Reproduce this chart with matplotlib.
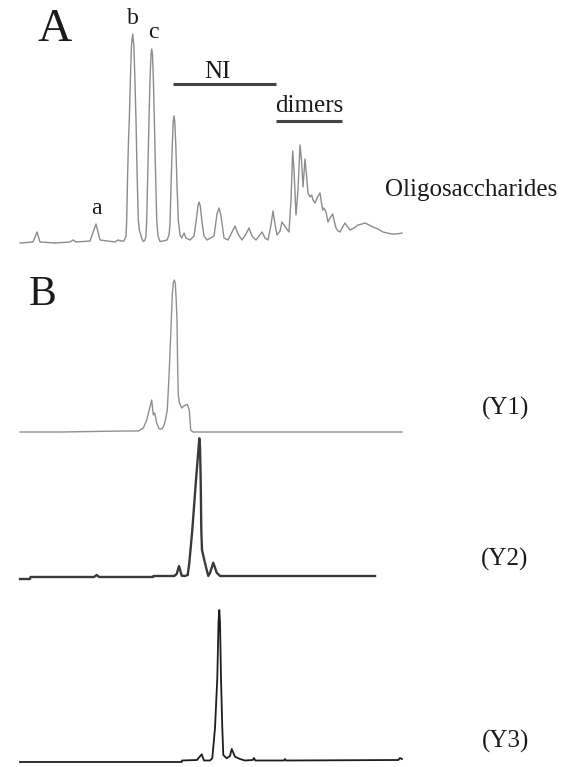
import matplotlib
matplotlib.use("Agg")
import matplotlib.pyplot as plt

# Хроматограми: час утримання (хв) і сигнал (відн. од., від базової лінії)
# Панель A - олігосахариди
t_oligo = [2.0, 3.3, 3.7, 4.0, 5.5, 7.0, 7.3, 7.6, 9.0, 9.6, 10.0, 11.5, 11.8, 12.1,
           12.4, 12.6, 12.67, 12.75, 12.85, 12.93, 13.05, 13.15, 13.27, 13.38,
           13.48, 13.6, 13.7, 13.83, 13.93, 14.17, 14.33, 14.5, 14.6, 14.67,
           14.78, 14.9, 15.0, 15.1, 15.17, 15.25, 15.34, 15.43, 15.55, 15.67,
           15.8, 16.0, 16.3, 16.7, 16.9, 17.0, 17.12, 17.23, 17.32, 17.4, 17.48,
           17.58, 17.7, 17.83, 18.0, 18.17, 18.4, 18.6, 19.0, 19.4, 19.6, 19.8,
           19.9, 20.03, 20.2, 20.4, 20.7, 21.4, 21.7, 21.9, 22.1, 22.4, 22.8,
           23.2, 23.5, 23.8, 24.2, 24.6, 24.9, 25.2, 25.6, 25.9, 26.2, 26.5,
           26.8, 27.1, 27.3, 27.5, 27.7, 28.0, 28.2, 28.4, 28.6, 28.9, 29.1,
           29.27, 29.4, 29.6, 29.8, 30.0, 30.15, 30.3, 30.5, 30.65, 30.8, 31.0,
           31.17, 31.3, 31.5, 31.7, 32.0, 32.15, 32.27, 32.4, 32.6, 32.8, 33.0,
           33.27, 33.45, 33.6, 33.8, 34.0, 34.2, 34.5, 34.7, 35.0, 35.4, 35.8,
           36.2, 36.5, 36.9, 37.3, 37.8, 38.3, 38.7, 39.2, 39.7, 40.2]
s_oligo = [0, 1, 11, 1, 0, 1, 3, 1, 2, 19, 3, 1, 3, 2,
           2, 7, 23, 63, 103, 123, 168, 198, 209, 198, 168, 123,
           73, 23, 13, 5, 1.5, 3, 7, 23, 73, 123, 163, 188, 194, 188,
           163, 123, 73, 23, 7, 1.5, 2, 3, 8, 19, 63, 98, 121, 127,
           121, 98, 58, 23, 8, 5, 10, 5, 3, 7, 21, 37, 41, 37, 21, 7,
           3, 7, 29, 35, 27, 5, 3, 11, 17, 9, 3, 9, 15, 7, 3, 7, 11, 5,
           3, 18, 32, 19, 8, 12, 21, 18, 15, 11, 43, 92, 73, 28, 53, 98,
           83, 56, 84, 68, 50, 46, 48, 43, 40, 45, 50, 40, 33, 35, 31, 21,
           25, 29, 21, 15, 12, 11, 15, 20, 17, 13, 15, 18, 19, 20, 18, 16,
           14, 11, 10, 9, 9, 10]

# Панель B - фракції Y1, Y2, Y3
t_y1 = [2.0, 6.0, 12.5, 13.83, 14.33, 14.67, 15.17, 15.33, 15.47, 15.67,
        15.93, 16.17, 16.33, 16.5, 16.73, 16.83, 16.93, 17.03, 17.13, 17.23,
        17.33, 17.43, 17.53, 17.62, 17.7, 17.77, 17.83, 17.95, 18.17, 18.4,
        18.73, 18.93, 19.07, 19.3, 30.0, 40.2]
s_y1 = [0, 0, 1, 1, 4, 12, 32, 17, 19, 9,
        3, 3, 5, 10, 22, 42, 62, 87, 112, 137,
        149, 152, 149, 132, 112, 62, 37, 29, 24, 26,
        27.7, 22, 2, 0, 0, 0]

t_y2 = [2.0, 3.0, 3.05, 9.4, 9.67, 9.9, 15.3, 15.35, 17.43, 17.67, 17.9,
        18.17, 18.5, 18.77, 18.93, 19.23, 19.6, 19.8, 19.93, 20.0, 20.07,
        20.13, 20.2, 20.43, 20.67, 20.83, 21.0, 21.33, 21.67, 22.0, 37.5]
s_y2 = [-2, -2, 0, 0, 2, 0, 0, 1, 1, 3, 11,
        1.3, 1, 2, 14, 47, 97, 122, 138.7, 130, 97,
        47, 27, 17, 7, 1, 4, 14.3, 4.3, 1, 1]

t_y3 = [2.0, 18.17, 18.2, 19.7, 20.17, 20.4, 21.0, 21.23, 21.5, 21.73, 21.85,
        21.93, 22.0, 22.1, 22.23, 22.33, 22.67, 23.0, 23.17, 23.5, 24.0,
        24.5, 25.27, 25.4, 25.53, 28.4, 28.5, 28.6, 39.83, 40.0, 40.2]
s_y3 = [0, 0, 1.5, 2, 7.7, 1.5, 1.5, 3.7, 34, 84, 140,
        152, 140, 84, 34, 7, 3.7, 6, 13, 5.3, 3,
        1.5, 2, 4, 1.5, 1.5, 3, 1.5, 2, 4, 3]

W, H = 579, 767
fig = plt.figure(figsize=(W / 100, H / 100), dpi=100)
fig.patch.set_facecolor('white')
serif = ['Liberation Serif', 'DejaVu Serif']
ink = '#1a1a1a'


def panel(top, bottom, base):
    # вісь на всю ширину; верх/низ і базова лінія - у пікселях рисунка
    ax = fig.add_axes([0, 1 - bottom / H, 1, (bottom - top) / H])
    ax.set_xlim(0, W / 10)
    ax.set_ylim(base - bottom, base - top)
    ax.axis('off')
    return ax


ax_a = panel(25, 250, 243)
ax_a.plot(t_oligo, s_oligo, color='#8c8c8c', lw=1.0)
ax_a.hlines(159, 17.3, 27.6, color='#444444', lw=2.2)
ax_a.hlines(122, 27.6, 34.2, color='#444444', lw=2.2)

ax_1 = panel(275, 440, 432)
ax_1.plot(t_y1, s_y1, color='#8f8f8f', lw=1.0)

ax_2 = panel(435, 585, 577)
ax_2.plot(t_y2, s_y2, color='#3a3a3a', lw=1.7)

ax_3 = panel(600, 767, 762)
ax_3.plot(t_y3, s_y3, color='#1e1e1e', lw=1.3)


def label(x, y, s, size, ha='center'):
    fig.text(x / W, 1 - y / H, s, fontsize=size, family=serif, color=ink,
             ha=ha, va='center')


label(55, 30, 'A', 34)
label(43, 295, 'B', 30)
label(133, 19, 'b', 17)
label(153, 33, 'c', 17)
label(96, 209, 'a', 17)
label(217, 72, 'NI', 18)
label(309, 106, 'dimers', 18)
label(385, 190, 'Oligosaccharides', 18, ha='left')
label(506, 408, '(Y1)', 18)
label(505, 559, '(Y2)', 18)
label(506, 741, '(Y3)', 18)

fig.savefig('out.png', dpi=100, facecolor='white')
